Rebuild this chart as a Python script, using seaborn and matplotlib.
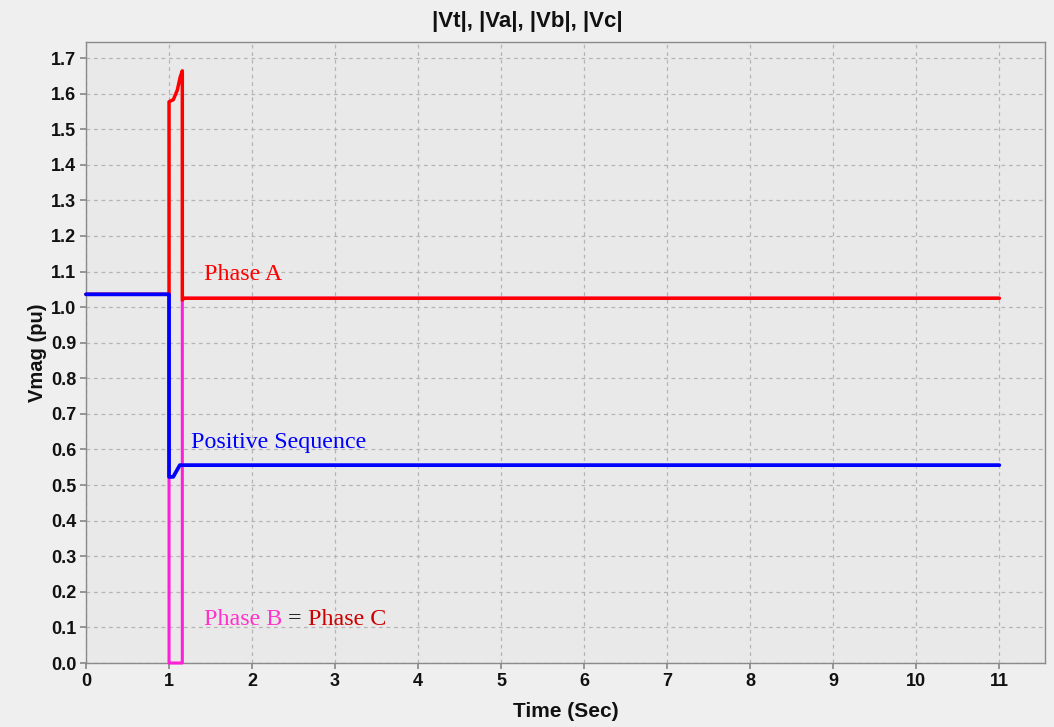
import matplotlib
matplotlib.use("Agg")
import matplotlib.pyplot as plt
import seaborn as sns
import pandas as pd

# Data
t_pos = [0.0, 1.0, 1.0, 1.05, 1.13, 11.0]
v_pos = [1.036, 1.036, 0.523, 0.523, 0.556, 0.556]

t_a = [0.0, 1.0, 1.0, 1.052, 1.10, 1.133, 1.16, 1.16, 1.18, 11.0]
v_a = [1.036, 1.036, 1.577, 1.583, 1.61, 1.645, 1.664, 1.02, 1.025, 1.025]

t_b = [0.0, 1.0, 1.0, 1.16, 1.16, 1.18, 11.0]
v_b = [1.036, 1.036, 0.0, 0.0, 1.02, 1.025, 1.025]

x_ticks = list(range(0, 12))
y_ticks = [round(0.1 * i, 1) for i in range(0, 18)]

title = "|Vt|, |Va|, |Vb|, |Vc|"
xlabel = "Time (Sec)"
ylabel = "Vmag (pu)"

sns.set_theme(style="whitegrid")
plt.rcParams['font.family'] = ['Liberation Sans', 'DejaVu Sans']

fig = plt.figure(figsize=(10.54, 7.27), dpi=100, facecolor="#efefef")
ax = fig.add_axes([86 / 1054, (727 - 663) / 727, (1045 - 86) / 1054, (663 - 42) / 727])
ax.set_facecolor("#e9e9e9")

df_b = pd.DataFrame({"t": t_b, "v": v_b})
df_a = pd.DataFrame({"t": t_a, "v": v_a})
df_p = pd.DataFrame({"t": t_pos, "v": v_pos})

sns.lineplot(data=df_b, x="t", y="v", sort=False, estimator=None, ax=ax,
             color="#ff1fd9", linewidth=2.2, clip_on=False, zorder=3)
sns.lineplot(data=df_a, x="t", y="v", sort=False, estimator=None, ax=ax,
             color="#ff0000", linewidth=2.5, clip_on=False, zorder=4)
sns.lineplot(data=df_p, x="t", y="v", sort=False, estimator=None, ax=ax,
             color="#0000ff", linewidth=2.7, clip_on=False, zorder=5)

ax.set_xlim(0, 11.55)
ax.set_ylim(0, 1.745)
ax.set_xticks(x_ticks)
ax.set_yticks(y_ticks)
ax.set_xticklabels([str(x) for x in x_ticks])
ax.set_yticklabels([f"{y:.1f}" for y in y_ticks])

ax.grid(True, color="#b5b5b5", linestyle=(0, (3, 3)), linewidth=0.9)
for s in ax.spines.values():
    s.set_color("#8a8a8a")
    s.set_linewidth(1.0)
ax.tick_params(axis="both", which="major", length=4, color="#8a8a8a",
               labelsize=13, pad=3, direction="out", bottom=True, left=True)
for lab in ax.get_xticklabels() + ax.get_yticklabels():
    lab.set_fontweight("bold")
    lab.set_color("#111111")

fig.text(0.5, 1 - 21 / 727, title, fontsize=16, fontweight="bold", color="#111111",
         ha="center", va="center")
ax.set_xlabel(xlabel, fontsize=15, fontweight="bold", labelpad=9, color="#111111")
ax.set_ylabel(ylabel, fontsize=14.5, fontweight="bold", labelpad=3, color="#111111")

serif = ["Liberation Serif", "DejaVu Serif"]
ax.text(1.42, 1.075, "Phase A", color="#ff0000", fontsize=17.3, family=serif)
ax.text(1.26, 0.605, "Positive Sequence", color="#0000ff", fontsize=17.3, family=serif)
tb = ax.text(1.42, 0.108, "Phase B", color="#ff33cc", fontsize=17.3, family=serif)
fig.canvas.draw()
t1 = ax.annotate(" = ", xy=(1, 0), xycoords=tb, va="bottom", color="#111111",
                 fontsize=17.3, family=serif)
t2 = ax.annotate("Phase C", xy=(1, 0), xycoords=t1, va="bottom", color="#cc0000",
                 fontsize=17.3, family=serif)

fig.savefig("out.png", dpi=100, facecolor=fig.get_facecolor())
